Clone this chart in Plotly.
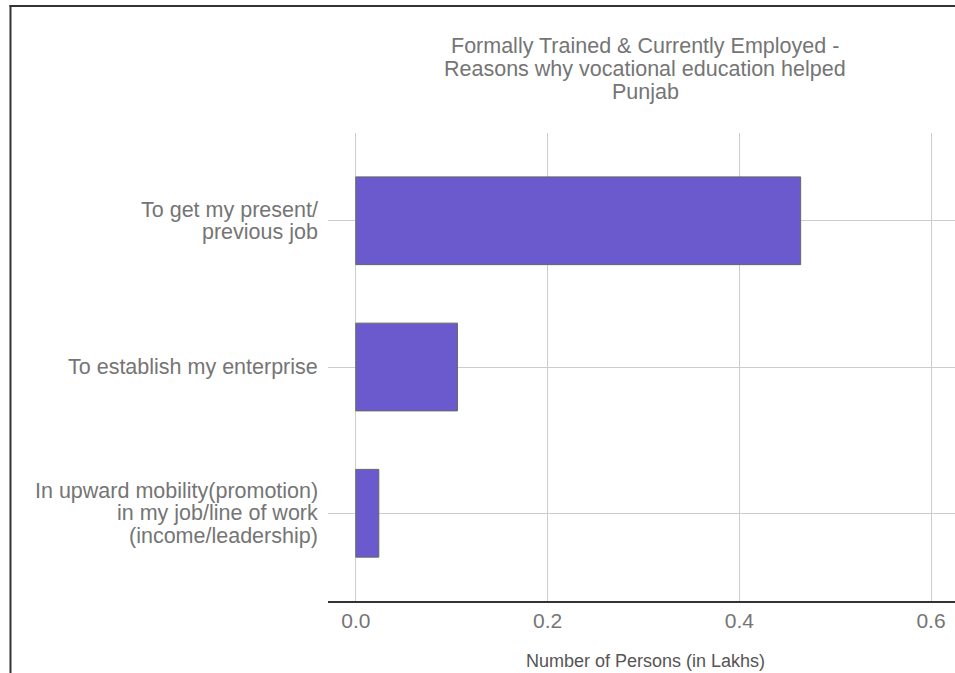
import plotly.graph_objects as go

categories = [
    "To get my present/<br>previous job",
    "To establish my enterprise",
    "In upward mobility(promotion)<br>in my job/line of work<br>(income/leadership)",
]
values = [0.464, 0.106, 0.024]
x_ticks = [0.0, 0.2, 0.4, 0.6]
x_tick_labels = ["0.0", "0.2", "0.4", "0.6"]
title_lines = [
    "Formally Trained & Currently Employed -",
    "Reasons why vocational education helped",
    "Punjab",
]
x_title = "Number of Persons (in Lakhs)"

W, H = 955, 673
ml, mr, mt, mb = 328, 0, 133, 72
pw = W - ml - mr
ph = H - mt - mb


def px_x(px):
    return (px - ml) / pw


def px_y(py):
    return (H - mb - py) / ph


grey = "#757575"
font_family = "Liberation Sans, Arial, sans-serif"

fig = go.Figure()
fig.add_trace(go.Bar(
    x=values, y=categories, orientation="h", width=0.6,
    marker=dict(color="#6A5ACD", line=dict(color="#666666", width=1)),
    hoverinfo="skip",
))

annotations = []
# title lines
for i, line in enumerate(title_lines):
    annotations.append(dict(
        text=line, xref="paper", yref="paper", x=px_x(645), y=px_y(45.5 + i * 23.3),
        xanchor="center", yanchor="middle", showarrow=False,
        font=dict(size=21.5, color=grey, family=font_family),
    ))
# axis title
annotations.append(dict(
    text=x_title, xref="paper", yref="paper", x=px_x(645), y=px_y(661),
    xanchor="center", yanchor="middle", showarrow=False,
    font=dict(size=18, color="#555555", family=font_family),
))
# category labels, one annotation per line for tight line spacing
for cat in categories:
    parts = cat.split("<br>")
    n = len(parts)
    for j, part in enumerate(parts):
        annotations.append(dict(
            text=part, xref="paper", yref="y", x=px_x(320), y=cat,
            yshift=-(j - (n - 1) / 2) * 22.5,
            xanchor="right", yanchor="middle", showarrow=False,
            font=dict(size=21.5, color=grey, family=font_family),
        ))

fig.update_layout(
    width=W, height=H,
    margin=dict(l=ml, r=mr, t=mt, b=mb, pad=0),
    paper_bgcolor="white", plot_bgcolor="white",
    font=dict(family=font_family, color=grey),
    showlegend=False,
    xaxis=dict(
        range=[-0.029, 0.625], tickvals=x_ticks, ticktext=x_tick_labels,
        showgrid=True, gridcolor="#cccccc", gridwidth=1, zeroline=False,
        showline=True, linecolor="#333333", linewidth=2,
        ticks="", tickfont=dict(size=21, color=grey),
    ),
    yaxis=dict(
        type="category", categoryorder="array", categoryarray=categories,
        range=[2.6, -0.6],
        showgrid=True, gridcolor="#cccccc", gridwidth=1, zeroline=False,
        showline=False, ticks="", showticklabels=False,
    ),
    annotations=annotations,
    shapes=[
        dict(type="line", xref="paper", yref="paper",
             x0=px_x(9.5), x1=px_x(W), y0=px_y(6), y1=px_y(6),
             line=dict(color="#333333", width=2)),
        dict(type="line", xref="paper", yref="paper",
             x0=px_x(10.5), x1=px_x(10.5), y0=px_y(5), y1=px_y(H),
             line=dict(color="#333333", width=2)),
    ],
)

fig.write_html(
    "out.html",
    config={"displayModeBar": False},
    post_script="document.body.style.margin='0';document.body.style.overflow='hidden';",
)
